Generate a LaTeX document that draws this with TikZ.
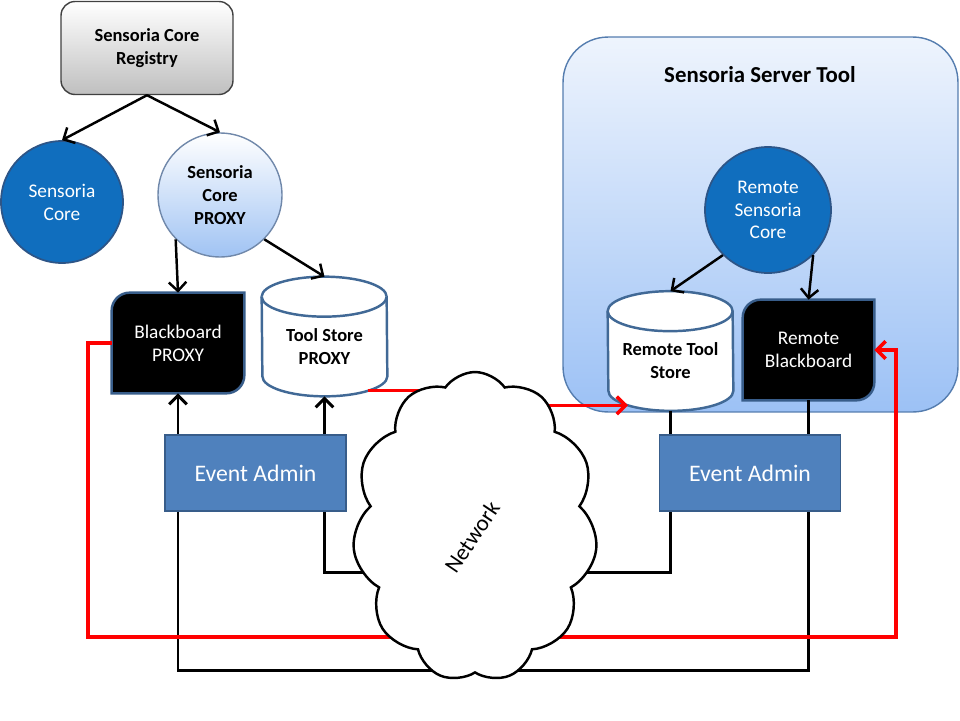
\documentclass[tikz,border=0pt]{standalone}
\usepackage{fontspec}
\setmainfont{Carlito}
\usetikzlibrary{arrows.meta, shapes.symbols, backgrounds}

\definecolor{coreblue}{RGB}{16,110,190}
\definecolor{coreline}{RGB}{45,85,135}
\definecolor{eventblue}{RGB}{79,129,189}
\definecolor{eventline}{RGB}{56,93,138}
\definecolor{storeline}{RGB}{65,105,150}
\definecolor{proxyblue}{RGB}{160,195,243}
\definecolor{servertop}{RGB}{238,244,253}
\definecolor{serverbottom}{RGB}{156,193,245}
\definecolor{serverline}{RGB}{85,125,175}
\definecolor{netred}{RGB}{255,0,0}

\tikzset{
  registry/.style={rectangle, rounded corners=0.28cm, draw=black!75, line width=0.8pt,
    top color=white, bottom color=black!25, minimum width=3.44cm, minimum height=1.86cm,
    font=\bfseries\fontsize{10.5}{13}\selectfont},
  core/.style={circle, draw=coreline, line width=1pt, fill=coreblue, text=white,
    font=\fontsize{11}{13}\selectfont},
  coreproxy/.style={circle, draw=proxyblue!70!black, line width=0.8pt,
    top color=white, bottom color=proxyblue, font=\bfseries\fontsize{10.5}{13}\selectfont},
  board/.style={rectangle, minimum width=2.64cm, minimum height=2cm, text=white,
    font=\fontsize{11}{13}\selectfont},
  boardshape/.style={fill=black, draw=eventline, line width=1.4pt},
  store/.style={rectangle, minimum width=2.5cm, minimum height=2.38cm},
  storelabel/.style={align=center, font=\bfseries\fontsize{10.5}{13}\selectfont},
  storeshape/.style={fill=white, draw=storeline, line width=1.4pt},
  serverbox/.style={rectangle, rounded corners=0.9cm, draw=serverline, line width=0.8pt,
    top color=servertop, bottom color=serverbottom, minimum width=7.9cm, minimum height=7.5cm},
  eventbox/.style={rectangle, fill=eventblue, draw=eventline, line width=1pt, text=white,
    minimum width=3.62cm, minimum height=1.52cm, font=\fontsize{13.5}{16}\selectfont},
  linkarrow/.style={-{Straight Barb[length=5pt, width=10pt]}, line width=1.4pt},
  wire/.style={line width=1.7pt},
  redwire/.style={netred, line width=2pt},
}

\begin{document}
\begin{tikzpicture}[x=0.02cm, y=-0.02cm, every node/.style={inner sep=0pt, align=center}]
  \useasboundingbox (0,0) rectangle (960,720);
  % local side
  \node[registry] (reg) at (147,48) {Sensoria Core\\Registry};
  \node[core, minimum size=2.44cm] (core) at (62,202) {Sensoria\\Core};
  \node[coreproxy, minimum size=2.48cm] (proxy) at (220,195) {Sensoria\\Core\\PROXY};
  \node[board] (bb) at (178,343) {Blackboard\\PROXY};
  \node[store, label={[storelabel, yshift=-0.2cm]center:Tool Store\\PROXY}] (ts) at (324.5,336.5) {};
  \node[eventbox] (ea1) at (255.5,473) {Event Admin};
  % remote side
  \node[font=\bfseries\fontsize{13}{15}\selectfont] (title) at (760,75) {Sensoria Server Tool};
  \node[core, minimum size=2.52cm] (rcore) at (768,210) {Remote\\Sensoria\\Core};
  \node[store, label={[storelabel, yshift=-0.2cm]center:Remote Tool\\Store}] (rts) at (670.5,351) {};
  \node[board, minimum width=2.62cm] (rbb) at (808.5,350) {Remote\\Blackboard};
  \node[eventbox] (ea2) at (750,473) {Event Admin};

  \begin{scope}[on background layer]
    \node[serverbox] (server) at (760.5,224.5) {};
    % blackboards
    \filldraw[boardshape] (bb.south west) -- ([yshift=-0.36cm]bb.north west)
      arc[start angle=180, end angle=90, radius=0.36cm] -- (bb.north east)
      -- ([yshift=0.36cm]bb.south east) arc[start angle=0, end angle=-90, radius=0.36cm] -- cycle;
    \filldraw[boardshape] (rbb.south west) -- ([yshift=-0.36cm]rbb.north west)
      arc[start angle=180, end angle=90, radius=0.36cm] -- (rbb.north east)
      -- ([yshift=0.36cm]rbb.south east) arc[start angle=0, end angle=-90, radius=0.36cm] -- cycle;
    % stores
    \filldraw[storeshape] ([yshift=-0.4cm]ts.north west)
      arc[start angle=180, end angle=0, x radius=1.25cm, y radius=0.4cm]
      -- ([yshift=0.4cm]ts.south east)
      arc[start angle=0, end angle=-180, x radius=1.25cm, y radius=0.4cm] -- cycle;
    \draw[storeshape] ([yshift=-0.4cm]ts.north west)
      arc[start angle=180, end angle=360, x radius=1.25cm, y radius=0.4cm];
    \filldraw[storeshape] ([yshift=-0.4cm]rts.north west)
      arc[start angle=180, end angle=0, x radius=1.25cm, y radius=0.4cm]
      -- ([yshift=0.4cm]rts.south east)
      arc[start angle=0, end angle=-180, x radius=1.25cm, y radius=0.4cm] -- cycle;
    \draw[storeshape] ([yshift=-0.4cm]rts.north west)
      arc[start angle=180, end angle=360, x radius=1.25cm, y radius=0.4cm];
  \end{scope}

  % links inside each side
  \draw[linkarrow] (reg.south) -- (core.north);
  \draw[linkarrow] (reg.south) -- (proxy.north);
  \draw[linkarrow] (proxy.225) -- (bb.north);
  \draw[linkarrow] (proxy.-45) -- (ts.north);
  \draw[linkarrow] (rcore.225) -- (rts.north);
  \draw[linkarrow] (rcore.-45) -- (rbb.north);
  \draw[linkarrow, wire] (ea1.north -| bb) -- (bb.south);
  \draw[linkarrow, wire] (ea1.north -| ts) -- (ts.south);
  \draw[wire] (rts.south) -- (ea2.north -| rts);
  \draw[wire] (rbb.south) -- (ea2.north -| rbb);

  % network wires
  \coordinate (busA) at (475,572);
  \coordinate (busB) at (475,670);
  \coordinate (redL) at (88,637);
  \coordinate (redR) at (896,637);
  \coordinate (tsout) at ([xshift=0.87cm, yshift=0.12cm]ts.south);
  \coordinate (rtsin) at ([xshift=-0.85cm, yshift=0.11cm]rts.south);
  \draw[wire] (ea1.south -| ts) |- (busA) -| (ea2.south -| rts);
  \draw[wire] (ea1.south -| bb) |- (busB) -| (ea2.south -| rbb);
  \draw[linkarrow, redwire] (bb.west) -| (redL) -- (redR) |- (rbb.east);
  \draw[linkarrow, redwire] (tsout) -- (tsout -| busA) |- (rtsin);

  \node[cloud, draw, fill=white, line width=1.4pt, cloud puffs=11, cloud puff arc=110,
    cloud ignores aspect, minimum width=4.9cm, minimum height=6.2cm] (cloud) at (475,527) {};
  \node[rotate=56, font=\fontsize{13}{15}\selectfont] (net) at (472,537) {Network};
\end{tikzpicture}
\end{document}
